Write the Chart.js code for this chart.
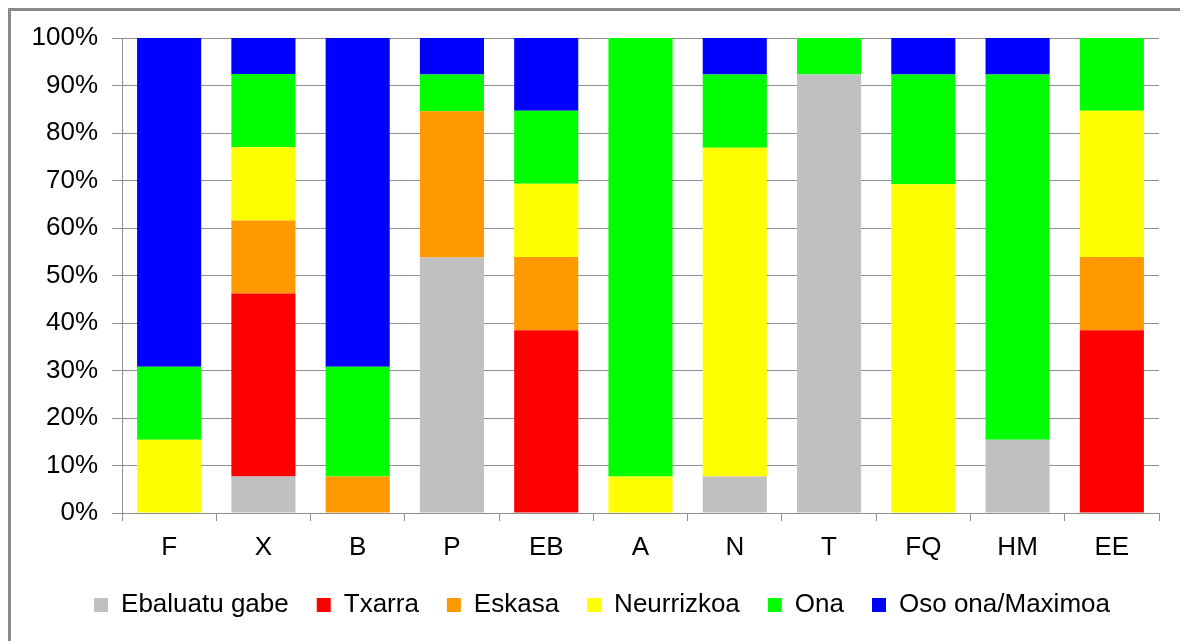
<!DOCTYPE html>
<html>
<head>
<meta charset="utf-8">
<script src="https://cdn.jsdelivr.net/npm/chart.js@4"></script>
<style>
  html, body { margin: 0; padding: 0; background: #fff; overflow: hidden; }
  #wrap { position: relative; width: 1180px; height: 641px; }
  #frame { position: absolute; left: 8px; top: 8px; width: 1200px; height: 700px;
           border-left: 3px solid #8a8a8a; border-top: 3px solid #8a8a8a; }
  canvas { position: absolute; left: 0; top: 0; }
</style>
</head>
<body>
<div id="wrap">
  <div id="frame"></div>
  <canvas id="myChart" width="1180" height="641"></canvas>
</div>
<script>
// categories on the x axis
var categories = ['F', 'X', 'B', 'P', 'EB', 'A', 'N', 'T', 'FQ', 'HM', 'EE'];

// share of each rating per category (%)
var ebaluatuGabe = [0, 7.7, 0, 53.8, 0, 0, 7.7, 92.3, 0, 15.4, 0];
var txarra       = [0, 38.5, 0, 0, 38.5, 0, 0, 0, 0, 0, 38.5];
var eskasa       = [0, 15.4, 7.7, 30.8, 15.4, 0, 0, 0, 0, 0, 15.4];
var neurrizkoa   = [15.4, 15.4, 0, 0, 15.4, 7.7, 69.2, 0, 69.2, 0, 30.8];
var ona          = [15.4, 15.4, 23.1, 7.7, 15.4, 92.3, 15.4, 7.7, 23.1, 76.9, 15.4];
var osoOna       = [69.2, 7.7, 69.2, 7.7, 15.4, 0, 7.7, 0, 7.7, 7.7, 0];

var yTicks = [0, 10, 20, 30, 40, 50, 60, 70, 80, 90, 100];

var gridColor = '#8f8f8f';
var font = { family: '"Liberation Sans", Arial, sans-serif', size: 26 };

function ds(label, data, color) {
    return { label: label, data: data, backgroundColor: color, borderWidth: 0 };
}

// nudge the legend right so it centres the way the original does
var shiftLegend = {
    id: 'shiftLegend',
    afterLayout: function(chart) {
        chart.legend.left += 33;
    }
};

var ctx = document.getElementById('myChart').getContext('2d');
var myChart = new Chart(ctx, {
    type: 'bar',
    data: {
        labels: categories,
        datasets: [
            ds('Ebaluatu gabe', ebaluatuGabe, '#c0c0c0'),
            ds('Txarra', txarra, '#ff0000'),
            ds('Eskasa', eskasa, '#ff9900'),
            ds('Neurrizkoa', neurrizkoa, '#ffff00'),
            ds('Ona', ona, '#00ff00'),
            ds('Oso ona/Maximoa', osoOna, '#0000ff')
        ]
    },
    options: {
        responsive: false,
        animation: false,
        datasets: { bar: { categoryPercentage: 1, barPercentage: 0.68 } },
        layout: { padding: { left: 12, right: 21, top: 38, bottom: 13 } },
        scales: {
            x: {
                stacked: true,
                grid: { display: true, drawOnChartArea: false, offset: true,
                        color: gridColor, tickLength: 8 },
                border: { display: true, color: gridColor, width: 1 },
                ticks: { color: '#000', font: font, padding: 11 },
                afterFit: function(s) { s.height = 51; }
            },
            y: {
                stacked: true,
                min: 0,
                max: 100,
                afterBuildTicks: function(s) {
                    s.ticks = yTicks.map(function(v) { return { value: v }; });
                },
                grid: { color: gridColor, tickLength: 10 },
                border: { display: true, color: gridColor, width: 1 },
                ticks: { color: '#000', font: font, padding: 14,
                         callback: function(v) { return v + '%'; } },
                afterFit: function(s) { s.width = 110; }
            }
        },
        plugins: {
            legend: {
                position: 'bottom',
                labels: { color: '#000', font: font, boxWidth: 14, boxHeight: 14,
                          padding: 28 }
            },
            tooltip: { enabled: false }
        }
    },
    plugins: [shiftLegend]
});
</script>
</body>
</html>
